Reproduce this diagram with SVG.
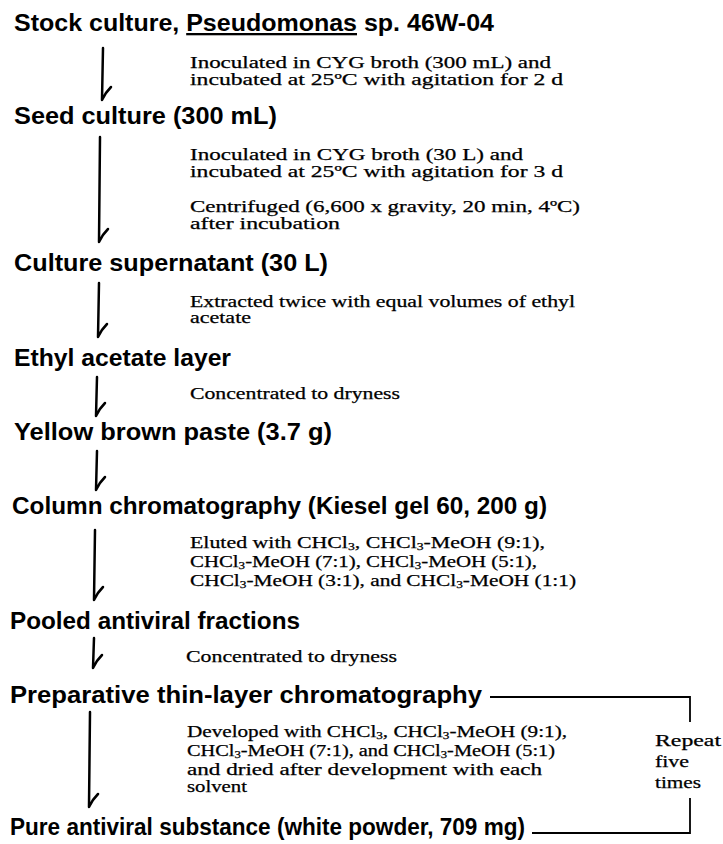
<svg xmlns="http://www.w3.org/2000/svg" width="723" height="844" viewBox="0 0 723 844">
<style>
.t{font-family:"Liberation Sans",Arial,sans-serif;font-weight:bold;font-size:23px;fill:#000}
.b{font-family:"Liberation Serif","Times New Roman",serif;font-size:16px;fill:#000;stroke:#000;stroke-width:0.25}
.s{font-size:10px}
.a{fill:none;stroke:#000;stroke-width:2.5;stroke-linecap:round;stroke-linejoin:round}
.k{fill:none;stroke:#000;stroke-width:1.8}
</style>
<rect width="723" height="844" fill="#fff"/>
<g id="n1"><text class="t" x="14" y="31" textLength="480" lengthAdjust="spacingAndGlyphs">Stock culture, <tspan text-decoration="underline">Pseudomonas</tspan> sp. 46W-04</text></g>
<g id="n2"><text class="t" x="14" y="124" textLength="263" lengthAdjust="spacingAndGlyphs">Seed culture (300 mL)</text></g>
<g id="n3"><text class="t" x="14" y="271" textLength="314" lengthAdjust="spacingAndGlyphs">Culture supernatant (30 L)</text></g>
<g id="n4"><text class="t" x="14" y="366" textLength="217" lengthAdjust="spacingAndGlyphs">Ethyl acetate layer</text></g>
<g id="n5"><text class="t" x="14" y="440" textLength="318" lengthAdjust="spacingAndGlyphs">Yellow brown paste (3.7 g)</text></g>
<g id="n6"><text class="t" x="12" y="514" textLength="535" lengthAdjust="spacingAndGlyphs">Column chromatography (Kiesel gel 60, 200 g)</text></g>
<g id="n7"><text class="t" x="10" y="629" textLength="290" lengthAdjust="spacingAndGlyphs">Pooled antiviral fractions</text></g>
<g id="n8"><text class="t" x="10" y="703" textLength="472" lengthAdjust="spacingAndGlyphs">Preparative thin-layer chromatography</text></g>
<g id="n9"><text class="t" x="10" y="835" textLength="515" lengthAdjust="spacingAndGlyphs">Pure antiviral substance (white powder, 709 mg)</text></g>

<g id="notes">
<text class="b" x="190" y="68" textLength="361" lengthAdjust="spacingAndGlyphs">Inoculated in CYG broth (300 mL) and</text>
<text class="b" x="190" y="85" textLength="373" lengthAdjust="spacingAndGlyphs">incubated at 25ºC with agitation for 2 d</text>
<text class="b" x="190" y="160" textLength="333" lengthAdjust="spacingAndGlyphs">Inoculated in CYG broth (30 L) and</text>
<text class="b" x="190" y="177" textLength="373" lengthAdjust="spacingAndGlyphs">incubated at 25ºC with agitation for 3 d</text>
<text class="b" x="190" y="212" textLength="390" lengthAdjust="spacingAndGlyphs">Centrifuged (6,600 x gravity, 20 min, 4ºC)</text>
<text class="b" x="190" y="229" textLength="150" lengthAdjust="spacingAndGlyphs">after incubation</text>
<text class="b" x="190" y="307" textLength="385" lengthAdjust="spacingAndGlyphs">Extracted twice with equal volumes of ethyl</text>
<text class="b" x="190" y="323" textLength="61" lengthAdjust="spacingAndGlyphs">acetate</text>
<text class="b" x="190" y="399" textLength="210" lengthAdjust="spacingAndGlyphs">Concentrated to dryness</text>
<text class="b" x="190" y="548" textLength="355" lengthAdjust="spacingAndGlyphs">Eluted with CHCl<tspan class="s" dy="2">3</tspan><tspan dy="-2">, CHCl</tspan><tspan class="s" dy="2">3</tspan><tspan dy="-2">-MeOH (9:1),</tspan></text>
<text class="b" x="190" y="567" textLength="347" lengthAdjust="spacingAndGlyphs">CHCl<tspan class="s" dy="2">3</tspan><tspan dy="-2">-MeOH (7:1), CHCl</tspan><tspan class="s" dy="2">3</tspan><tspan dy="-2">-MeOH (5:1),</tspan></text>
<text class="b" x="190" y="586" textLength="386" lengthAdjust="spacingAndGlyphs">CHCl<tspan class="s" dy="2">3</tspan><tspan dy="-2">-MeOH (3:1), and CHCl</tspan><tspan class="s" dy="2">3</tspan><tspan dy="-2">-MeOH (1:1)</tspan></text>
<text class="b" x="186" y="662" textLength="211" lengthAdjust="spacingAndGlyphs">Concentrated to dryness</text>
<text class="b" x="187" y="737" textLength="380" lengthAdjust="spacingAndGlyphs">Developed with CHCl<tspan class="s" dy="2">3</tspan><tspan dy="-2">, CHCl</tspan><tspan class="s" dy="2">3</tspan><tspan dy="-2">-MeOH (9:1),</tspan></text>
<text class="b" x="187" y="756" textLength="368" lengthAdjust="spacingAndGlyphs">CHCl<tspan class="s" dy="2">3</tspan><tspan dy="-2">-MeOH (7:1), and CHCl</tspan><tspan class="s" dy="2">3</tspan><tspan dy="-2">-MeOH (5:1)</tspan></text>
<text class="b" x="187" y="775" textLength="355" lengthAdjust="spacingAndGlyphs">and dried after development with each</text>
<text class="b" x="187" y="792" textLength="60" lengthAdjust="spacingAndGlyphs">solvent</text>
<text class="b" x="655" y="746" textLength="66" lengthAdjust="spacingAndGlyphs">Repeat</text>
<text class="b" x="655" y="767" textLength="34" lengthAdjust="spacingAndGlyphs">five</text>
<text class="b" x="655" y="788" textLength="46" lengthAdjust="spacingAndGlyphs">times</text>
</g>

<g id="connectors">
<path class="a" d="M103,48 L102,100 Q105,93 111,87"/>
<path class="a" d="M100,137 L99,242 Q102,235 108,229"/>
<path class="a" d="M99,283 L98,337 Q101,330 107,324"/>
<path class="a" d="M97,377 L96,416 Q99,409 105,403"/>
<path class="a" d="M97,451 L96,490 Q99,483 105,477"/>
<path class="a" d="M95,530 L94,600 Q97,593 103,587"/>
<path class="a" d="M94,638 L93,668 Q96,661 102,655"/>
<path class="a" d="M90,712 L89,807 Q92,800 98,794"/>
<path class="k" d="M490,697 L690,697 L690,722"/>
<path class="k" d="M690,798 L690,833 L532,833"/>
</g>
</svg>
